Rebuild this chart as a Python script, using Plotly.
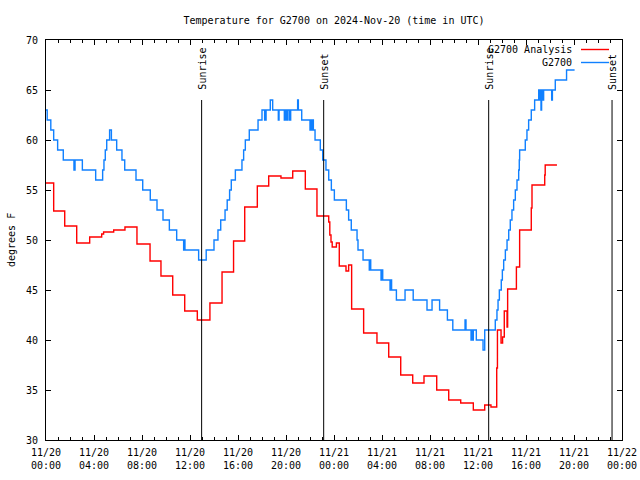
import plotly.graph_objects as go

# hours since 2024-11-20 00:00 UTC
blue_t = [0.00, 0.10, 0.40, 0.64, 0.97, 1.44, 2.33, 2.42, 3.03, 4.14, 4.72, 4.83, 4.94, 5.06, 5.30, 5.45,
          5.89, 6.33, 6.56, 7.50, 8.06, 8.69, 9.25, 9.75, 10.28, 10.89, 11.47, 11.52, 11.58, 12.72, 13.35,
          14.00, 14.33, 14.56, 14.92, 15.10, 15.30, 15.44, 15.78, 16.33, 16.47, 16.61, 16.94, 17.67, 18.00,
          18.22, 18.25, 18.31, 18.34, 18.69, 18.89, 19.36, 19.42, 19.86, 19.94, 20.06, 20.14, 20.28, 20.39,
          20.97, 21.03, 21.31, 22.00, 22.06, 22.17, 22.22, 22.28, 22.42, 22.86, 23.06, 23.33, 23.56, 23.78,
          24.03, 25.03, 25.22, 25.44, 25.92, 26.00, 26.42, 26.94, 26.98, 27.06, 27.92, 27.96, 28.06, 28.67,
          28.72, 28.80, 29.20, 29.92, 30.60, 31.75, 32.17, 32.80, 33.45, 33.90, 34.92, 35.00, 35.42, 35.47,
          35.50, 35.61, 35.86, 36.42, 36.56, 37.44, 37.58, 37.67, 37.78, 37.94, 38.03, 38.14, 38.28, 38.42,
          38.56, 38.69, 38.83, 38.97, 39.11, 39.25, 39.39, 39.44, 39.47, 39.94, 40.08, 40.22, 40.44, 40.72,
          41.06, 41.14, 41.17, 41.25, 41.30, 41.36, 41.47, 42.14, 42.20, 42.44, 43.38, 44.05]
blue_v = [63, 62, 61, 60, 59, 58, 57, 58, 57, 56, 57, 58, 59, 60, 61, 60,
          59, 58, 57, 56, 55, 54, 53, 52, 51, 50, 49, 50, 49, 48, 49,
          50, 51, 52, 53, 54, 55, 56, 57, 58, 59, 60, 61, 62, 63,
          62, 63, 62, 63, 64, 63, 62, 63, 62, 63, 62, 63, 62, 63,
          64, 63, 62, 61, 62, 61, 62, 61, 60, 59, 58, 57, 56, 55,
          54, 53, 52, 51, 50, 49, 48, 47, 48, 47, 46, 47, 46, 45,
          46, 45, 44, 45, 44, 43, 44, 43, 42, 41, 42, 41, 40, 41,
          40, 41, 40, 39, 41, 42, 43, 44, 45, 46, 47, 48, 49, 50,
          51, 52, 53, 54, 55, 56, 57, 58, 59, 60, 61, 62, 63, 64,
          65, 64, 65, 63, 65, 64, 65, 64, 65, 66, 67, 67]

red_t = [0.00, 0.64, 1.56, 2.56, 3.64, 4.64, 4.80, 5.64, 6.58, 7.58, 8.67, 9.58, 10.56, 11.56, 12.61,
         13.66, 14.67, 15.63, 16.56, 17.61, 18.56, 19.58, 20.56, 21.61, 22.58, 23.56, 23.65, 23.75, 23.85,
         24.20, 24.44, 25.00, 25.22, 25.47, 26.47, 27.58, 28.56, 29.56, 30.56, 31.50, 32.56, 33.56, 34.56,
         35.61, 36.56, 37.08, 37.56, 37.62, 37.92, 38.05, 38.19, 38.42, 38.47, 39.20, 39.47, 40.44, 40.50,
         41.56, 41.60, 42.58]
red_v = [55.7, 52.9, 51.4, 49.7, 50.3, 50.6, 50.8, 51.0, 51.3, 49.6, 47.9, 46.4, 44.5, 42.9, 42.0,
         43.7, 46.8, 49.9, 53.3, 55.4, 56.4, 56.2, 56.9, 55.1, 52.4, 51.8, 50.5, 49.8, 49.3,
         49.7, 47.4, 46.9, 47.5, 43.1, 40.7, 39.7, 38.3, 36.5, 35.7, 36.4, 35.0, 34.0, 33.7,
         33.0, 33.5, 33.3, 37.2, 41.0, 39.7, 40.3, 42.9, 41.3, 45.1, 47.3, 51.0, 53.2, 55.5,
         56.5, 57.5, 57.5]

sun_t = [12.97, 23.14, 36.89, 47.17]
sun_labels = ["Sunrise", "Sunset", "Sunrise", "Sunset"]

x_tickvals = [0, 4, 8, 12, 16, 20, 24, 28, 32, 36, 40, 44, 48]
x_ticktext = ["11/20<br>00:00", "11/20<br>04:00", "11/20<br>08:00", "11/20<br>12:00", "11/20<br>16:00",
              "11/20<br>20:00", "11/21<br>00:00", "11/21<br>04:00", "11/21<br>08:00", "11/21<br>12:00",
              "11/21<br>16:00", "11/21<br>20:00", "11/22<br>00:00"]

series_names = ["G2700 Analysis", "G2700"]
series_colors = ["#ff0000", "#1080ff"]

FONT = "DejaVu Sans Mono"

fig = go.Figure()
fig.add_trace(go.Scatter(x=red_t, y=red_v, mode="lines", line=dict(color=series_colors[0], width=1.4, shape="hv"),
                         name=series_names[0], showlegend=False))
fig.add_trace(go.Scatter(x=blue_t, y=blue_v, mode="lines", line=dict(color=series_colors[1], width=1.4, shape="hv"),
                         name=series_names[1], showlegend=False))

shapes = []
annotations = []
for t, lab in zip(sun_t, sun_labels):
    shapes.append(dict(type="line", xref="x", yref="paper", x0=t, x1=t, y0=0, y1=0.85,
                       line=dict(color="black", width=1)))
    annotations.append(dict(x=t, y=0.87, xref="x", yref="paper", text=lab, textangle=-90, showarrow=False,
                            xanchor="center", yanchor="bottom", font=dict(family=FONT, size=10, color="black")))

# legend (gnuplot style: text then line sample)
for i, (nm, col) in enumerate(zip(series_names, series_colors)):
    ypix = 49.5 + 13 * i
    yp = (440 - ypix) / 400
    annotations.append(dict(x=(574 - 46) / 576, y=yp, xref="paper", yref="paper", text=nm, showarrow=False,
                            xanchor="right", yanchor="middle", font=dict(family=FONT, size=10, color="black")))
    shapes.append(dict(type="line", xref="paper", yref="paper", x0=(581 - 46) / 576, x1=(609 - 46) / 576,
                       y0=yp, y1=yp, line=dict(color=col, width=1.4)))

annotations.append(dict(x=(11 - 46) / 576, y=0.5, xref="paper", yref="paper", text="degrees F", textangle=-90,
                        showarrow=False, xanchor="center", yanchor="middle",
                        font=dict(family=FONT, size=10, color="black")))

fig.update_layout(
    width=640, height=480,
    margin=dict(l=46, r=18, t=40, b=40),
    paper_bgcolor="white", plot_bgcolor="white",
    title=dict(text="Temperature for G2700 on 2024-Nov-20 (time in UTC)", x=(334) / 640, xanchor="center",
               y=1 - 20 / 480, yanchor="middle", yref="container",
               font=dict(family=FONT, size=10, color="black")),
    shapes=shapes, annotations=annotations,
    showlegend=False,
)
fig.update_xaxes(range=[0, 48], tickmode="array", tickvals=x_tickvals, ticktext=x_ticktext,
                 ticks="inside", ticklen=5, tickcolor="black", showline=True, linecolor="black", linewidth=1,
                 mirror="allticks", showgrid=False, zeroline=False, automargin=False, ticklabelstandoff=3,
                 minor=dict(ticks="inside", ticklen=3, tickmode="linear", tick0=0, dtick=1, tickcolor="black",
                            showgrid=False),
                 tickfont=dict(family=FONT, size=10, color="black"))
fig.update_yaxes(range=[30, 70], tickmode="linear", tick0=30, dtick=5,
                 ticks="inside", ticklen=5, tickcolor="black", showline=True, linecolor="black", linewidth=1,
                 mirror="allticks", showgrid=False, zeroline=False, ticklabelstandoff=5, automargin=False,
                 tickfont=dict(family=FONT, size=10, color="black"))

fig.write_html("out.html", config={"responsive": False, "displayModeBar": False},
               post_script="document.body.style.margin='0px';document.body.style.overflow='hidden';")
